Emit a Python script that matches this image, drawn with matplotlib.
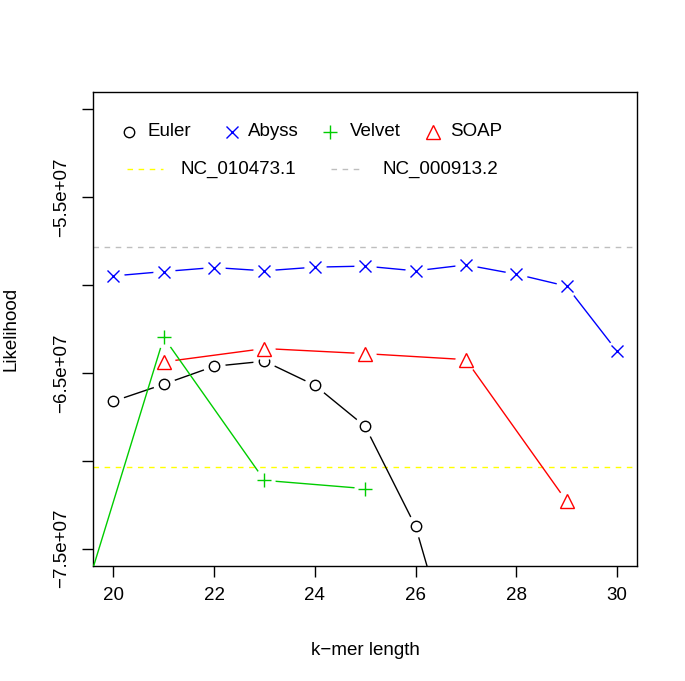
import matplotlib
matplotlib.use("Agg")
import matplotlib.pyplot as plt
from matplotlib.lines import Line2D
from matplotlib.ticker import FuncFormatter

plt.rcParams['font.family'] = ['Liberation Sans', 'DejaVu Sans']

# k-mer lengths and likelihoods
euler_k = [20, 21, 22, 23, 24, 25, 26, 27]
euler_ll = [-6.661e7, -6.564e7, -6.462e7, -6.433e7, -6.570e7, -6.804e7, -7.373e7, -8.36e7]

abyss_k = [20, 21, 22, 23, 24, 25, 26, 27, 28, 29, 30]
abyss_ll = [-5.948e7, -5.923e7, -5.900e7, -5.919e7, -5.898e7, -5.892e7,
            -5.919e7, -5.885e7, -5.938e7, -6.006e7, -6.375e7]

velvet_k = [19, 21, 23, 25]
velvet_ll = [-8.165e7, -6.298e7, -7.111e7, -7.158e7]

soap_k = [21, 23, 25, 27, 29]
soap_ll = [-6.437e7, -6.361e7, -6.390e7, -6.424e7, -7.229e7]

ref_names = ['NC_010473.1', 'NC_000913.2']
ref_ll = [-7.035e7, -5.782e7]
ref_cols = ['#ffff00', '#bebebe']

yticks = [-7.5e7, -7.0e7, -6.5e7, -6.0e7, -5.5e7, -5.0e7]
xticks = [20, 22, 24, 26, 28, 30]

series = [
    ('Euler', euler_k, euler_ll, 'black', 'o'),
    ('Abyss', abyss_k, abyss_ll, '#0000ff', 'x'),
    ('SOAP', soap_k, soap_ll, '#ff0000', '^'),
    ('Velvet', velvet_k, velvet_ll, '#00cd00', '+'),
]
FS = 13.5

fig = plt.figure(figsize=(6.85, 6.81), dpi=100)
ax = fig.add_axes([0.1362, 0.1684, 0.7938, 0.6969])

def marker(x, y, col, mk, **kw):
    if mk in ('o', '^'):
        ax.plot(x, y, ls='none', marker=mk, ms=7.5 if mk == 'o' else 9.5,
                mfc='none', mec=col, mew=1.0, **kw)
    else:
        ax.plot(x, y, ls='none', marker=mk, ms=8 if mk == 'x' else 10,
                color=col, mew=1.0, **kw)

for i, (name, k, ll, col, mk) in enumerate(series):
    z = 3 + i
    ax.plot(k, ll, color=col, lw=1.0, zorder=z)
    # white mask to leave gaps around points (R type="b")
    ax.plot(k, ll, ls='none', marker='o', ms=15, mfc='white', mec='white', zorder=z + 0.3)
    marker(k, ll, col, mk, zorder=z + 0.6)

for val, col in zip(ref_ll, ref_cols):
    ax.axhline(val, color=col, lw=1.0, ls=(0, (4, 4)), zorder=2)

ax.set_xlim(19.6, 30.4)
ax.set_ylim(-7.6e7, -4.9e7)
ax.set_xticks(xticks)
ax.set_yticks(yticks)

def ylab(v, pos):
    if pos in (0, 2, 4):
        return '\u2212%.1fe+07' % abs(v / 1e7)
    return ''

ax.yaxis.set_major_formatter(FuncFormatter(ylab))
ax.tick_params(axis='both', direction='out', length=8, width=1.0, labelsize=FS)
ax.tick_params(axis='x', pad=7)
ax.tick_params(axis='y', pad=9)
for lab in ax.get_yticklabels():
    lab.set_rotation(90)
    lab.set_va('center')
for sp in ax.spines.values():
    sp.set_linewidth(1.0)

ax.set_xlabel('k\u2212mer length', fontsize=FS, labelpad=27)
ax.set_ylabel('Likelihood', fontsize=FS, labelpad=24)

# legend, laid out by hand like R's legend()
row1, row2 = 0.9157, 0.8371
mk_x = [0.0662, 0.2557, 0.4353, 0.6248]
tx_x = [0.0993, 0.2845, 0.4721, 0.6560]
leg = [series[0], series[1], series[3], series[2]]
for (name, k, ll, col, mk), mx, tx in zip(leg, mk_x, tx_x):
    marker([mx], [row1], col, mk, transform=ax.transAxes)
    ax.text(tx, row1, name, transform=ax.transAxes, ha='left', va='center', fontsize=FS)

seg = [(0.0619, 0.1282), (0.4366, 0.4979)]
txt2 = [0.1607, 0.5323]
for name, col, (a, b), tx in zip(ref_names, ref_cols, seg, txt2):
    ax.add_line(Line2D([a, b], [row2, row2], transform=ax.transAxes, color=col,
                       lw=1.0, ls=(0, (4, 4))))
    ax.text(tx, row2, name, transform=ax.transAxes, ha='left', va='center', fontsize=FS)

fig.savefig('out.png', dpi=100)
